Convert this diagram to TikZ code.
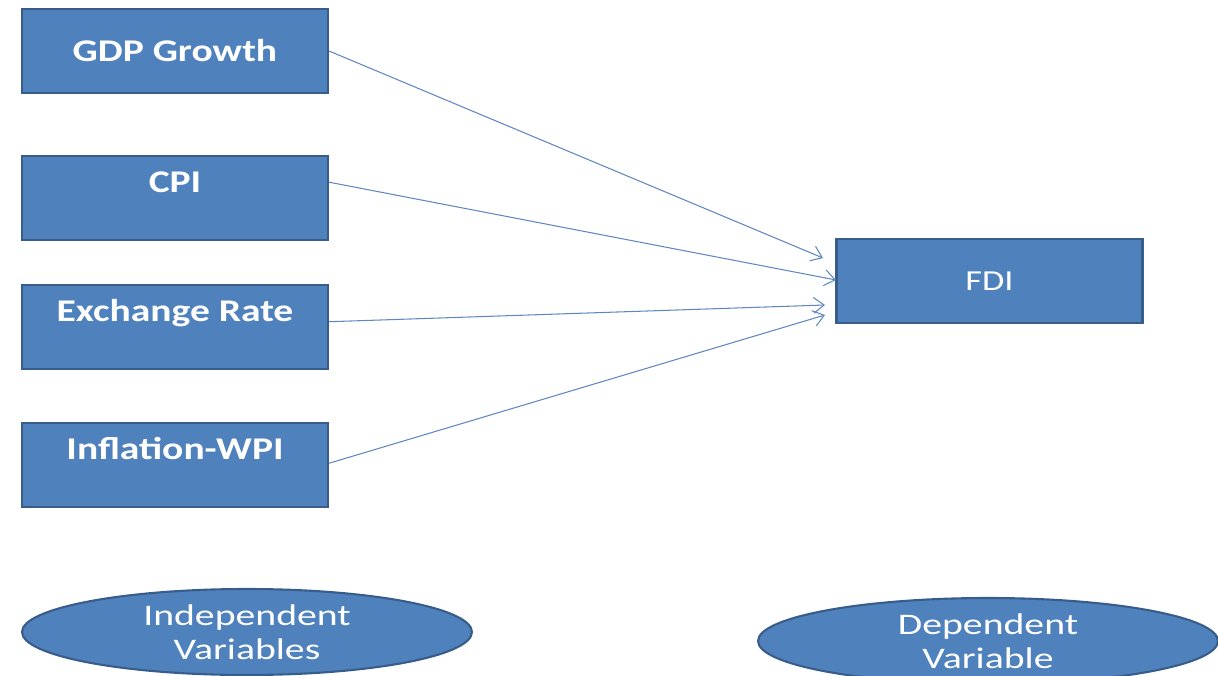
\documentclass[tikz,border=0pt]{standalone}
\usepackage{fontspec}
\setmainfont{Carlito}[FakeStretch=1.25]
\newfontfamily\ovalfont{Carlito}[FakeStretch=1.33]
\usetikzlibrary{arrows.meta,shapes.geometric}
\definecolor{boxblue}{RGB}{79,129,189}
\definecolor{boxedge}{RGB}{56,93,138}
\definecolor{linkblue}{RGB}{95,135,195}

\begin{document}
\begin{tikzpicture}[
  x=0.02cm, y=-0.02cm,
  vbox/.style={rectangle, draw=boxedge, fill=boxblue, line width=1.2pt, minimum width=6.12cm, minimum height=1.68cm, inner sep=0pt, text=white, font=\fontsize{18}{21}\selectfont\bfseries},
  topbox/.style={vbox, text height=12pt, text depth=18pt},
  oval/.style={ellipse, draw=boxedge, fill=boxblue, line width=1.2pt, inner sep=0pt, text=white, align=center, font=\ovalfont\fontsize{17}{19.5}\selectfont},
  link/.style={draw=linkblue, line width=0.6pt, -{Straight Barb[length=6pt,width=9pt]}}
]
  \useasboundingbox (0,0) rectangle (1218,676);

  % Variables independientes (columna izquierda)
  \node[vbox] (gdp) at (175,51) {GDP Growth};
  \node[topbox] (cpi) at (175,198) {CPI};
  \node[topbox] (exch) at (175,327) {Exchange Rate};
  \node[topbox] (infl) at (175,465) {Inflation-WPI};

  % Variable dependiente
  \node[vbox, font=\fontsize{16.5}{19}\selectfont] (fdi) at (989.5,281) {FDI};

  % Puntas de las flechas
  \coordinate (t1) at (823,258);
  \coordinate (t2) at (836,280);
  \coordinate (t3) at (825,305);
  \coordinate (t4) at (825,315);

  \draw[link] (gdp.east) -- (t1);
  \draw[link] ([yshift=9pt]cpi.east) -- (t2);
  \draw[link] ([yshift=3pt]exch.east) -- (t3);
  \draw[link] ([yshift=1pt]infl.east) -- (t4);

  % Leyendas inferiores
  \node[oval, minimum width=9cm, minimum height=1.72cm] (indep) at (247,632) {Independent\\Variables};
  \node[oval, minimum width=9.2cm, minimum height=1.72cm] (dep) at (988,641) {Dependent\\Variable};
\end{tikzpicture}
\end{document}
